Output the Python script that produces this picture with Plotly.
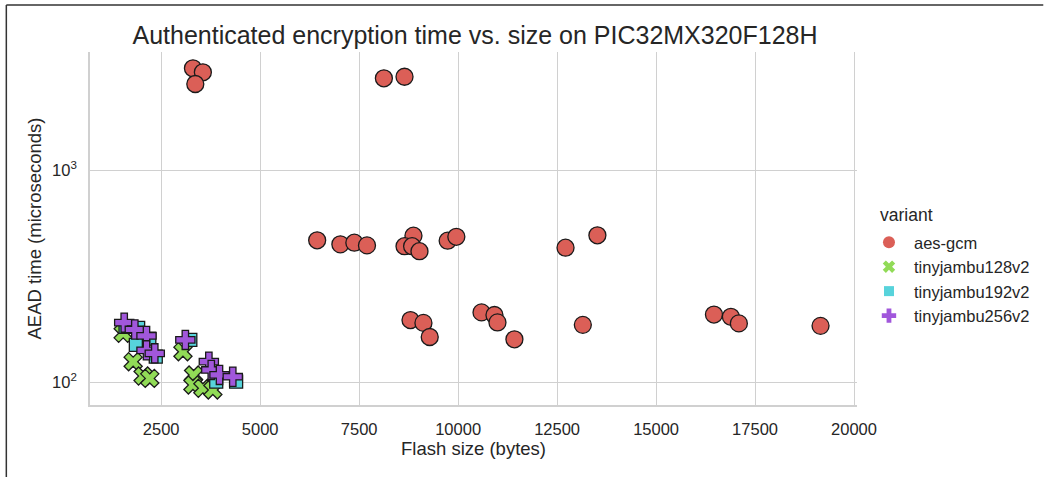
import plotly.graph_objects as go

# ---- data ----
aes_x = [3302, 3553, 3362, 8125, 8646,
         6440, 7026, 7379, 7698, 8872, 8646, 8838, 9024, 9736, 9955, 12713, 13518,
         8797, 9124, 9283, 10591, 10918, 10994, 11422, 13150,
         16462, 16890, 17091, 19154]
aes_y = [3018, 2890, 2545, 2707, 2754,
         466, 446, 454, 441, 490, 437, 437, 414, 464, 484, 430, 492,
         196, 190, 163, 213, 207, 191, 159, 186,
         208, 203, 189, 184]

tj128_x = [1540, 1792, 2043, 2212, 3050, 3319, 3302, 3553, 3805]
tj128_y = [169.7, 124.7, 106.7, 104.0, 139.0, 107.9, 96.8, 93.4, 91.7]

tj192_x = [1600, 1918, 1860, 2363, 3236, 3890, 4393, 2200]
tj192_y = [182, 180, 149.5, 131.6, 158, 100.3, 100.3, 160]

tj256_x = [1566, 1834, 2129, 2129, 2338, 3110, 3704, 3765, 3973, 4308]
tj256_y = [190.5, 177, 165, 141, 136.5, 158, 124.7, 114, 108, 105.9]

variants = ["aes-gcm", "tinyjambu128v2", "tinyjambu192v2", "tinyjambu256v2"]
colors = ["#db5f57", "#91db57", "#57d3db", "#a157db"]
symbols = ["circle", "x", "square", "cross"]
sizes = [17, 16, 13, 16]
xs = [aes_x, tj128_x, tj192_x, tj256_x]
ys = [aes_y, tj128_y, tj192_y, tj256_y]

x_ticks = [2500, 5000, 7500, 10000, 12500, 15000, 17500, 20000]
y_ticks = [100, 1000]
y_ticktext = ["10<sup>2</sup>", "10<sup>3</sup>"]

FONT = "Liberation Sans, Arial, sans-serif"
TXT = "#262626"
GRID = "#d0d0d0"

fig = go.Figure()
for name, c, s, sz, x, y in zip(variants, colors, symbols, sizes, xs, ys):
    fig.add_trace(go.Scatter(
        x=x, y=y, mode="markers", name=name, showlegend=False,
        marker=dict(color=c, symbol=s, size=sz,
                    line=dict(color="#1a1a1a", width=1.3)),
    ))
# legend entries (small markers, no edge)
legend_sizes = [12, 11, 10, 12]
for name, c, s, sz in zip(variants, colors, symbols, legend_sizes):
    fig.add_trace(go.Scatter(
        x=[None], y=[None], mode="markers", name=name, showlegend=True,
        marker=dict(color=c, symbol=s, size=sz, line=dict(width=0)),
    ))

fig.update_layout(
    width=1047, height=477,
    margin=dict(l=90, r=187, t=52, b=72),
    paper_bgcolor="white", plot_bgcolor="white",
    font=dict(family=FONT, color=TXT, size=16),
    title=dict(text="Authenticated encryption time vs. size on PIC32MX320F128H",
               x=475 / 1047, xanchor="center", y=1 - 35 / 477, yanchor="middle",
               font=dict(size=25, color=TXT)),
    legend=dict(
        x=(867 - 90) / 770, xanchor="left", y=(405 - 225) / 353, yanchor="top",
        font=dict(size=16.5, color=TXT), bgcolor="rgba(0,0,0,0)",
        itemsizing="trace", itemwidth=40,
    ),
    annotations=[dict(
        text="variant", xref="paper", yref="paper",
        x=(910 - 90) / 770, y=(405 - 215) / 353, xanchor="center", yanchor="middle",
        showarrow=False, font=dict(size=17.5, color=TXT),
    )],
    xaxis=dict(
        range=[702, 20075], tickvals=x_ticks, ticktext=[str(v) for v in x_ticks],
        showgrid=True, gridcolor=GRID, gridwidth=1.3,
        showline=True, linecolor=GRID, linewidth=1.6, mirror=False,
        zeroline=False, ticks="", tickfont=dict(size=16.5, color=TXT),
        ticklabelstandoff=8,
        title=dict(text="Flash size (bytes)", font=dict(size=18.5, color=TXT), standoff=4),
    ),
    yaxis=dict(
        type="log", range=[1.8915, 3.5566], tickvals=y_ticks, ticktext=y_ticktext,
        showgrid=True, gridcolor=GRID, gridwidth=1.3,
        showline=True, linecolor=GRID, linewidth=1.6, mirror=False,
        zeroline=False, ticks="", tickfont=dict(size=16.5, color=TXT),
        ticklabelstandoff=8,
        title=dict(text="AEAD time (microseconds)", font=dict(size=18.5, color=TXT), standoff=6),
    ),
    shapes=[
        dict(type="line", xref="paper", yref="paper",
             x0=(6 - 90) / 770, x1=(1047 - 90) / 770, y0=(405 - 5) / 353, y1=(405 - 5) / 353,
             line=dict(color="#333333", width=1.5)),
        dict(type="line", xref="paper", yref="paper",
             x0=(6 - 90) / 770, x1=(6 - 90) / 770, y0=(405 - 5) / 353, y1=(405 - 480) / 353,
             line=dict(color="#333333", width=1.5)),
    ],
)

fig.write_html("out.html")
